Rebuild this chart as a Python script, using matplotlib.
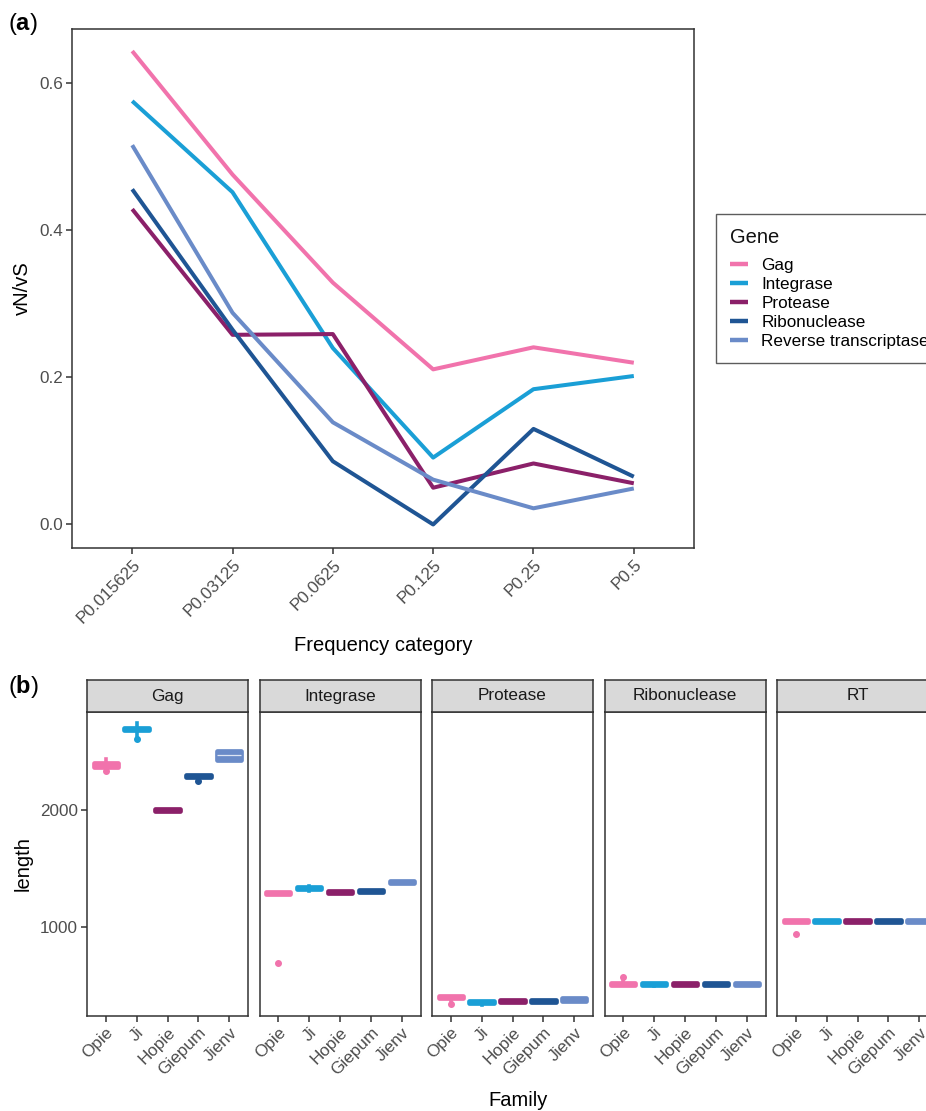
import matplotlib
matplotlib.use("Agg")
import matplotlib.pyplot as plt
from matplotlib.lines import Line2D

plt.rcParams['font.family'] = ['Liberation Sans', 'DejaVu Sans']
plt.rcParams['mathtext.fontset'] = 'custom'
plt.rcParams['mathtext.rm'] = 'Liberation Sans'
plt.rcParams['mathtext.bf'] = 'Liberation Sans:bold'

# panel (a) data
categories = ["P0.015625", "P0.03125", "P0.0625", "P0.125", "P0.25", "P0.5"]
genes = ["Gag", "Integrase", "Protease", "Ribonuclease", "Reverse transcriptase"]
gag = [0.644, 0.476, 0.329, 0.211, 0.241, 0.220]
integrase = [0.576, 0.452, 0.240, 0.091, 0.184, 0.202]
protease = [0.429, 0.258, 0.259, 0.050, 0.083, 0.056]
ribonuclease = [0.456, 0.265, 0.086, 0.000, 0.130, 0.065]
rev_transcriptase = [0.516, 0.288, 0.139, 0.061, 0.022, 0.049]
colors = ["#F173AC", "#1A9FD6", "#8B2069", "#1F5594", "#6A8BC8"]

# panel (b) data: box stats per gene, per family (Opie, Ji, Hopie, Giepum, Jienv)
families = ["Opie", "Ji", "Hopie", "Giepum", "Jienv"]
facets = ["Gag", "Integrase", "Protease", "Ribonuclease", "RT"]
med = {
    "Gag": [2385, 2690, 2000, 2290, 2470],
    "Integrase": [1290, 1332, 1302, 1305, 1385],
    "Protease": [400, 358, 368, 365, 380],
    "Ribonuclease": [515, 515, 515, 515, 515],
    "RT": [1055, 1055, 1055, 1055, 1055],
}
q1 = {
    "Gag": [2372, 2680, 1992, 2282, 2428],
    "Integrase": [1282, 1322, 1294, 1296, 1376],
    "Protease": [390, 350, 360, 357, 371],
    "Ribonuclease": [507, 507, 507, 507, 507],
    "RT": [1047, 1047, 1047, 1047, 1047],
}
q3 = {
    "Gag": [2400, 2702, 2010, 2300, 2508],
    "Integrase": [1300, 1342, 1312, 1315, 1395],
    "Protease": [412, 368, 378, 375, 390],
    "Ribonuclease": [524, 524, 524, 524, 524],
    "RT": [1064, 1064, 1064, 1064, 1064],
}
whislo = {
    "Gag": [2335, 2615, 1992, 2258, 2428],
    "Integrase": [1282, 1310, 1294, 1296, 1376],
    "Protease": [345, 338, 360, 357, 371],
    "Ribonuclease": [507, 500, 507, 507, 507],
    "RT": [1047, 1047, 1047, 1047, 1047],
}
whishi = {
    "Gag": [2435, 2740, 2010, 2300, 2508],
    "Integrase": [1300, 1348, 1312, 1315, 1395],
    "Protease": [412, 368, 378, 375, 390],
    "Ribonuclease": [570, 524, 524, 524, 524],
    "RT": [1064, 1064, 1064, 1064, 1064],
}
outliers = {
    "Gag": [[2330], [2605], [], [2250], []],
    "Integrase": [[690], [], [], [], []],
    "Protease": [[340], [], [], [], []],
    "Ribonuclease": [[575], [], [], [], []],
    "RT": [[945], [], [], [], []],
}
median_visible = {
    "Gag": [False, False, False, False, True],
    "Integrase": [False] * 5,
    "Protease": [False] * 5,
    "Ribonuclease": [False] * 5,
    "RT": [False] * 5,
}

W, H = 926, 1111
fig = plt.figure(figsize=(W / 100, H / 100), dpi=100)

def rect(x0, y0, x1, y1):
    return [x0 / W, 1 - y1 / H, (x1 - x0) / W, (y1 - y0) / H]

tick_col = "#4D4D4D"
frame_col = "#333333"
tick_fs = 12.3
title_fs = 14.5

# ---- panel (a)
ax = fig.add_axes(rect(72, 29, 694, 548))
series = [gag, integrase, protease, ribonuclease, rev_transcriptase]
xs = list(range(len(categories)))
for vals, c, g in zip(series, colors, genes):
    ax.plot(xs, vals, color=c, lw=2.9, label=g, solid_capstyle="butt")
ax.set_xlim(-0.6, 5.6)
ax.set_ylim(-0.032, 0.674)
ax.set_yticks([0.0, 0.2, 0.4, 0.6])
ax.set_yticklabels(["0.0", "0.2", "0.4", "0.6"])
ax.set_xticks(xs)
ax.set_xticklabels(categories, rotation=45, ha="right", rotation_mode="anchor")
ax.tick_params(labelsize=tick_fs, colors=frame_col, labelcolor=tick_col,
               length=4, width=1.1, pad=2.5)
for s in ax.spines.values():
    s.set_color(frame_col)
    s.set_linewidth(1.1)
ax.set_xlabel("Frequency category", fontsize=title_fs, labelpad=7)
ax.set_ylabel("vN/vS", fontsize=title_fs, labelpad=5)

handles = [Line2D([], [], color=c, lw=3.2, solid_capstyle="butt") for c in colors]
leg = fig.legend(handles, genes, loc="upper left",
                 bbox_to_anchor=(716 / W, 1 - 214 / H), borderaxespad=0,
                 title="Gene", fontsize=12.3, title_fontsize=title_fs,
                 frameon=True, fancybox=False,
                 handlelength=1.05, handletextpad=0.8, labelspacing=0.23,
                 borderpad=0.8, alignment="left")
leg._legend_box.sep = 8.5  # gap between title and entries
leg.get_frame().set_edgecolor("#333333")
leg.get_frame().set_linewidth(1.0)
leg.get_title().set_color("#111111")

fig.text(8 / W, 1 - 30 / H, r"($\mathbf{a}$)", fontsize=17, ha="left", va="baseline")
fig.text(8 / W, 1 - 693 / H, r"($\mathbf{b}$)", fontsize=17, ha="left", va="baseline")

# ---- panel (b)
left0 = 87
pw = 161
gap = 11.5
for i, f in enumerate(facets):
    x0 = left0 + i * (pw + gap)
    bx = fig.add_axes(rect(x0, 712, x0 + pw, 1016))
    stats = []
    for j in range(len(families)):
        stats.append(dict(med=med[f][j], q1=q1[f][j], q3=q3[f][j],
                          whislo=whislo[f][j], whishi=whishi[f][j],
                          fliers=outliers[f][j]))
    pos = list(range(1, len(families) + 1))
    b = bx.bxp(stats, positions=pos, widths=0.78, patch_artist=True,
               showcaps=False, manage_ticks=False)
    for j, c in enumerate(colors):
        b["boxes"][j].set_facecolor(c)
        b["boxes"][j].set_edgecolor(c)
        b["boxes"][j].set_linewidth(3.4)
        b["boxes"][j].set_joinstyle("round")
        if median_visible[f][j]:
            b["medians"][j].set_color("#DDE5F4")
            b["medians"][j].set_linewidth(0.9)
        else:
            b["medians"][j].set_visible(False)
        for w in b["whiskers"][2 * j:2 * j + 2]:
            w.set_color(c)
            w.set_linewidth(2.6)
        b["fliers"][j].set_marker("o")
        b["fliers"][j].set_markerfacecolor(c)
        b["fliers"][j].set_markeredgecolor(c)
        b["fliers"][j].set_markersize(4)
    bx.set_xlim(0.4, 5.6)
    bx.set_ylim(240, 2838)
    bx.set_xticks(pos)
    bx.set_xticklabels(families, rotation=45, ha="right", rotation_mode="anchor")
    bx.set_yticks([1000, 2000])
    if i == 0:
        bx.set_yticklabels(["1000", "2000"])
        bx.set_ylabel("length", fontsize=title_fs, labelpad=5)
    else:
        bx.set_yticklabels([])
    bx.tick_params(labelsize=tick_fs, colors=frame_col, labelcolor=tick_col,
                   width=1.1, pad=2.5)
    bx.tick_params(axis="x", length=4)
    bx.tick_params(axis="y", length=4 if i == 0 else 0)
    for s in bx.spines.values():
        s.set_color(frame_col)
        s.set_linewidth(1.1)
    # strip header
    st = fig.add_axes(rect(x0, 680, x0 + pw, 712))
    st.set_facecolor("#D9D9D9")
    st.set_xticks([])
    st.set_yticks([])
    for s in st.spines.values():
        s.set_color(frame_col)
        s.set_linewidth(1.1)
    st.text(0.5, 0.5, f, ha="center", va="center", fontsize=12.3,
            color="#1A1A1A", transform=st.transAxes)

fig.text((87 + 2.5 * (pw + gap)) / W, 1 - 1100 / H, "Family",
         fontsize=title_fs, ha="center", va="center")

fig.savefig("out.png", dpi=100)
